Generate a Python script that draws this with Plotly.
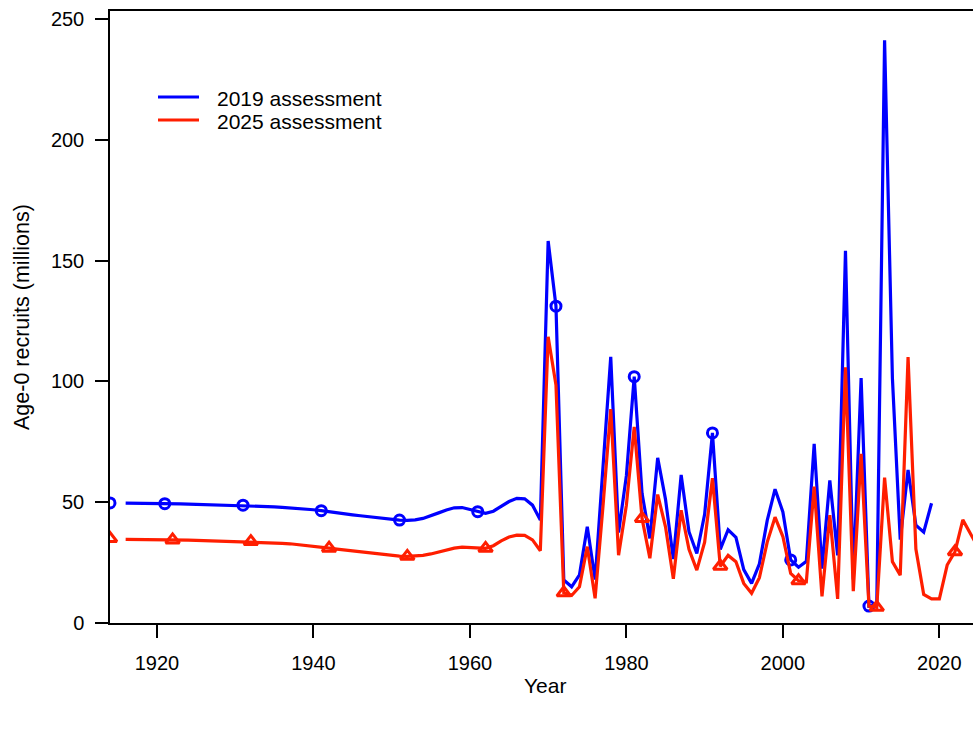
import plotly.graph_objects as go

# ---------------- data ----------------
series_names = ["2019 assessment", "2025 assessment"]

virgin_year = 1914
blue_virgin = 49.7
red_virgin = 35.0

blue_years = list(range(1916, 2020))
blue_vals = [
    # 1916-1969
    49.6, 49.6, 49.5, 49.5, 49.4, 49.4, 49.3, 49.3, 49.2, 49.1,
    49.1, 49.0, 49.0, 48.9, 48.8, 48.8, 48.6, 48.5, 48.3, 48.1,
    47.9, 47.7, 47.5, 47.2, 46.9, 46.5, 46.0, 45.6, 45.2, 44.8,
    44.4, 44.0, 43.6, 43.2, 42.9, 42.6, 42.5, 42.7, 43.3, 44.3,
    45.6, 46.8, 47.7, 47.8, 47.0, 46.1, 45.4, 46.3, 48.3, 50.3,
    51.6, 51.4, 48.8, 42.6,
    # 1970-2019
    158.2, 131.2, 17.8, 15.0, 19.9, 39.9, 18.0, 66.0, 110.2, 37.5,
    61.0, 102.0, 53.7, 35.0, 68.4, 51.2, 26.5, 61.3, 37.8, 28.8,
    45.0, 78.7, 30.5, 38.6, 35.5, 22.1, 16.4, 24.5, 42.5, 55.4,
    46.0, 26.1, 23.1, 25.5, 74.2, 22.5, 59.0, 28.0, 154.1, 18.0,
    101.4, 7.0, 7.5, 241.3, 101.4, 34.5, 63.4, 40.5, 37.6, 49.6,
]

red_years = list(range(1916, 2026))
red_vals = [
    # 1916-1969
    34.6, 34.6, 34.5, 34.5, 34.5, 34.4, 34.4, 34.3, 34.3, 34.2,
    34.1, 34.1, 34.0, 33.9, 33.9, 33.8, 33.7, 33.6, 33.4, 33.2,
    33.0, 32.8, 32.5, 32.1, 31.8, 31.4, 31.0, 30.6, 30.2, 29.8,
    29.4, 29.0, 28.6, 28.2, 27.9, 27.7, 27.6, 27.7, 28.0, 28.6,
    29.4, 30.3, 31.0, 31.4, 31.3, 31.0, 30.9, 32.0, 34.0, 35.6,
    36.4, 36.3, 34.4, 29.9,
    # 1970-2025
    118.5, 98.5, 12.5, 11.4, 15.0, 31.6, 10.2, 48.0, 88.6, 28.1,
    48.8, 81.2, 43.3, 26.8, 53.2, 39.8, 18.3, 46.7, 30.5, 21.9,
    33.5, 60.0, 23.5, 28.0, 25.4, 16.4, 12.3, 18.8, 33.5, 43.8,
    35.8, 20.5, 17.5, 17.1, 56.5, 11.0, 44.7, 10.0, 105.9, 13.2,
    70.0, 7.0, 6.5, 60.2, 25.4, 19.8, 110.1, 30.6, 11.8, 10.0,
    10.0, 24.0, 29.5, 42.7, 37.0, 31.0,
]

x_ticks = [1920, 1940, 1960, 1980, 2000, 2020]
y_ticks = [0, 50, 100, 150, 200, 250]

# ---------------- style ----------------
BLUE = "#0000FF"
RED = "#FF1E00"
FONT = "Liberation Sans, Arial, sans-serif"
W, H = 973, 729
ML, MR, MT, MB = 110, 0, 11, 106
PW, PH = W - ML - MR, H - MT - MB


def px_x(px):
    return (px - ML) / PW


def px_y(py):
    return (H - MB - py) / PH


fig = go.Figure()

specs = [
    (series_names[0], blue_years, blue_vals, blue_virgin, BLUE, "circle-open", 10, 1921),
    (series_names[1], red_years, red_vals, red_virgin, RED, "triangle-up-open", 12, 1922),
]

for name, yrs, vals, virg, col, sym, msize, first in specs:
    fig.add_trace(go.Scatter(
        x=yrs, y=vals, mode="lines", name=name,
        line=dict(color=col, width=3.2), showlegend=False,
    ))
    mx = [y for y in yrs if y >= first and (y - first) % 10 == 0]
    my = [v for y, v in zip(yrs, vals) if y >= first and (y - first) % 10 == 0]
    fig.add_trace(go.Scatter(
        x=[virgin_year] + mx, y=[virg] + my, mode="markers", name=name,
        marker=dict(symbol=sym, size=msize, color=col, line=dict(color=col, width=3)),
        showlegend=False,
    ))

axis_common = dict(
    showgrid=False, zeroline=False, showline=True, linecolor="black", linewidth=1.5,
    ticks="outside", ticklen=13, tickwidth=1.5, tickcolor="black",
    tickfont=dict(family=FONT, size=20, color="black"),
)

fig.update_layout(
    width=W, height=H,
    margin=dict(l=ML, r=MR, t=MT, b=MB, pad=0),
    paper_bgcolor="white", plot_bgcolor="white",
    showlegend=False,
    xaxis=dict(range=[1914, 2024.3], tickvals=x_ticks, mirror=True,
               ticklabelstandoff=8, **axis_common),
    yaxis=dict(range=[0, 253.4], tickvals=y_ticks, ticklabelstandoff=7, **axis_common),
)

# axis titles
fig.add_annotation(text="Year", xref="paper", yref="paper", x=px_x(545), y=px_y(685),
                   xanchor="center", yanchor="middle", showarrow=False,
                   font=dict(family=FONT, size=21, color="black"))
fig.add_annotation(text="Age-0 recruits (millions)", xref="paper", yref="paper",
                   x=px_x(22), y=0.5, textangle=-90, xanchor="center", yanchor="middle",
                   showarrow=False, font=dict(family=FONT, size=21.5, color="black"))

# legend (drawn manually to match the original key)
for name, col, ly in [(series_names[0], BLUE, 97), (series_names[1], RED, 120)]:
    fig.add_shape(type="line", xref="paper", yref="paper",
                  x0=px_x(158), x1=px_x(199), y0=px_y(ly), y1=px_y(ly),
                  line=dict(color=col, width=3))
    fig.add_annotation(text=name, xref="paper", yref="paper", x=px_x(215), y=px_y(ly + 1),
                       xanchor="left", yanchor="middle", showarrow=False,
                       font=dict(family=FONT, size=21, color="black"))

fig.write_html(
    "out.html",
    config={"displayModeBar": False},
    post_script="document.body.style.margin='0px';document.body.style.overflow='hidden';",
)
